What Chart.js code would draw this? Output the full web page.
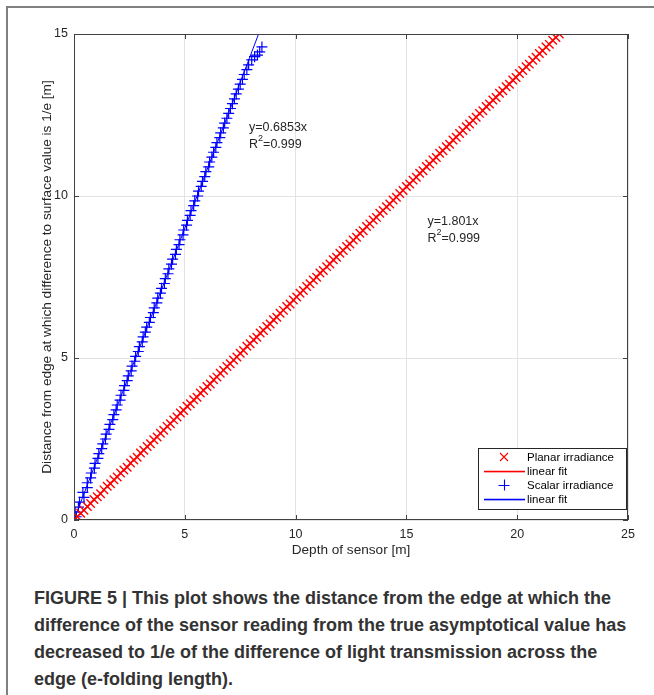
<!DOCTYPE html>
<html>
<head>
<meta charset="utf-8">
<script src="https://cdn.jsdelivr.net/npm/chart.js@4/dist/chart.umd.min.js"></script>
<style>
  html, body { margin: 0; padding: 0; background: #fff; }
  body { width: 654px; height: 695px; position: relative; overflow: hidden; }
  #frame {
    position: absolute; left: 6px; top: 6px; width: 660px; height: 720px;
    border-top: 2px solid #808080; border-left: 2px solid #808080;
  }
  #wrap { position: absolute; left: 0; top: 0; width: 654px; height: 570px; }
  #caption {
    position: absolute; left: 34px; top: 585px; width: 620px; white-space: nowrap;
    font-family: "Liberation Sans", Arial, sans-serif; font-weight: bold;
    font-size: 18px; line-height: 27px; color: #333;
  }
</style>
</head>
<body>
<div id="frame"></div>
<div id="wrap"><canvas id="chart"></canvas></div>
<div id="caption">FIGURE 5 | This plot shows the distance from the edge at which the<br>difference of the sensor reading from the true asymptotical value has<br>decreased to 1/e of the difference of light transmission across the<br>edge (e-folding length).</div>
<script>
// ═══════════════════════════════════════════════════════
// DATA  (depth of sensor [m], distance to 1/e [m])
// ═══════════════════════════════════════════════════════
const X_TICKS = [0, 5, 10, 15, 20, 25];
const Y_TICKS = [0, 5, 10, 15];

const PLANAR_POINTS = [
  [0,0],[0.15,0.10],[0.3,0.21],[0.45,0.30],[0.6,0.42],[0.75,0.51],[0.9,0.63],[1.05,0.72],
  [1.2,0.81],[1.35,0.93],[1.5,1.04],[1.65,1.12],[1.8,1.24],[1.95,1.33],[2.1,1.45],[2.25,1.54],
  [2.4,1.63],[2.55,1.76],[2.7,1.85],[2.85,1.94],[3.0,2.07],[3.15,2.15],[3.3,2.27],[3.45,2.35],
  [3.6,2.48],[3.75,2.56],[3.9,2.68],[4.05,2.77],[4.2,2.89],[4.35,2.97],[4.5,3.09],[4.65,3.18],
  [4.8,3.30],[4.95,3.38],[5.1,3.51],[5.25,3.59],[5.4,3.71],[5.55,3.79],[5.7,3.92],[5.85,4.00],
  [6.0,4.12],[6.15,4.20],[6.3,4.33],[6.45,4.41],[6.6,4.53],[6.75,4.62],[6.9,4.74],[7.05,4.82],
  [7.2,4.94],[7.35,5.03],[7.5,5.15],[7.65,5.23],[7.8,5.36],[7.95,5.44],[8.1,5.56],[8.25,5.64],
  [8.4,5.77],[8.55,5.85],[8.7,5.97],[8.85,6.05],[9.0,6.18],[9.15,6.26],[9.3,6.38],[9.45,6.47],
  [9.6,6.59],[9.75,6.67],[9.9,6.79],[10.05,6.88],[10.2,7.00],[10.35,7.08],[10.5,7.21],[10.65,7.29],
  [10.8,7.41],[10.95,7.49],[11.1,7.62],[11.25,7.70],[11.4,7.82],[11.55,7.90],[11.7,8.03],[11.85,8.11],
  [12.0,8.23],[12.15,8.32],[12.3,8.44],[12.45,8.52],[12.6,8.64],[12.75,8.73],[12.9,8.85],[13.05,8.93],
  [13.2,9.06],[13.35,9.14],[13.5,9.26],[13.65,9.34],[13.8,9.47],[13.95,9.55],[14.1,9.67],[14.25,9.75],
  [14.4,9.88],[14.55,9.96],[14.7,10.08],[14.85,10.17],[15.0,10.29],[15.15,10.37],[15.3,10.49],[15.45,10.58],
  [15.6,10.70],[15.75,10.78],[15.9,10.91],[16.05,10.99],[16.2,11.11],[16.35,11.19],[16.5,11.32],[16.65,11.40],
  [16.8,11.52],[16.95,11.60],[17.1,11.73],[17.25,11.81],[17.4,11.93],[17.55,12.02],[17.7,12.14],[17.85,12.22],
  [18.0,12.34],[18.15,12.43],[18.3,12.55],[18.45,12.63],[18.6,12.76],[18.75,12.84],[18.9,12.96],[19.05,13.04],
  [19.2,13.17],[19.35,13.25],[19.5,13.37],[19.65,13.45],[19.8,13.58],[19.95,13.66],[20.1,13.78],[20.25,13.87],
  [20.4,13.99],[20.55,14.07],[20.7,14.19],[20.85,14.28],[21.0,14.40],[21.15,14.48],[21.3,14.60],[21.45,14.68],
  [21.6,14.81],[21.75,14.89],[21.9,15.00]
];
const PLANAR_FIT = [[0, 0], [21.89, 15]];

const SCALAR_POINTS = [
  [0,0],[0.1,0.1],[0.05,0.25],[0.2,0.4],[0.25,0.55],[0.45,0.7],[0.4,0.85],[0.6,1.0],
  [0.6,1.15],[0.75,1.3],[0.78,1.45],[0.92,1.6],[0.95,1.75],[1.08,1.9],[1.12,2.05],[1.25,2.2],
  [1.3,2.35],[1.42,2.5],[1.45,2.65],[1.58,2.8],[1.62,2.95],[1.75,3.1],[1.8,3.25],[1.9,3.4],
  [1.95,3.55],[2.08,3.7],[2.12,3.85],[2.25,4.0],[2.28,4.15],[2.4,4.3],[2.45,4.45],[2.58,4.6],
  [2.62,4.75],[2.74,4.9],[2.78,5.05],[2.9,5.2],[2.95,5.35],[3.08,5.5],[3.12,5.65],[3.22,5.8],
  [3.28,5.95],[3.4,6.1],[3.45,6.25],[3.58,6.4],[3.62,6.55],[3.74,6.7],[3.78,6.85],[3.9,7.0],
  [3.95,7.15],[4.08,7.3],[4.12,7.45],[4.24,7.6],[4.28,7.75],[4.4,7.9],[4.45,8.05],[4.58,8.2],
  [4.62,8.35],[4.74,8.5],[4.78,8.65],[4.92,8.8],[4.95,8.95],[5.08,9.1],[5.12,9.25],[5.24,9.4],
  [5.28,9.55],[5.4,9.7],[5.45,9.85],[5.58,10.0],[5.62,10.15],[5.74,10.3],[5.8,10.45],[5.9,10.6],
  [5.95,10.75],[6.08,10.9],[6.12,11.05],[6.22,11.2],[6.3,11.35],[6.4,11.5],[6.45,11.65],[6.58,11.8],
  [6.62,11.95],[6.74,12.1],[6.8,12.25],[6.9,12.4],[6.98,12.55],[7.06,12.7],[7.15,12.85],[7.24,13.0],
  [7.32,13.15],[7.42,13.3],[7.5,13.45],[7.6,13.6],[7.68,13.75],[7.8,13.9],[7.88,14.05],[8.02,14.2],
  [8.15,14.3],[8.28,14.35],[8.38,14.45],[8.48,14.6]
];
const SCALAR_FIT = [[0, 0], [8.33, 15]];

const SERIES_LABELS = ['Planar irradiance', 'linear fit', 'Scalar irradiance', 'linear fit'];
const SERIES_COLORS = ['#ff0000', '#ff0000', '#0000ff', '#0000ff'];
const FIT_NOTES = [
  { x: 7.9, y: 12.12, eq: 'y=0.6853x', r2: '0.999' },
  { x: 15.95, y: 9.22, eq: 'y=1.801x',  r2: '0.999' },
];

const FONT = '"Liberation Sans", Arial, Helvetica, sans-serif';
const AXIS = '#404040';

const toPts = arr => arr.map(([x, y]) => ({ x, y }));

// ═══════════════════════════════════════════════════════
// MATLAB-STYLE BOX, INWARD TICKS, NOTES, LEGEND
// ═══════════════════════════════════════════════════════
const matlabBox = {
  id: 'matlabBox',
  afterDraw(chart) {
    const { ctx, chartArea: a, scales: { x, y } } = chart;
    ctx.save();
    ctx.strokeStyle = AXIS;
    ctx.lineWidth = 1;
    ctx.strokeRect(a.left + 0.5, a.top + 0.5, a.right - a.left - 1, a.bottom - a.top - 1);
    ctx.beginPath();
    X_TICKS.forEach(v => {
      const px = Math.round(x.getPixelForValue(v)) + 0.5;
      ctx.moveTo(px, a.bottom); ctx.lineTo(px, a.bottom - 5);
      ctx.moveTo(px, a.top); ctx.lineTo(px, a.top + 5);
    });
    Y_TICKS.forEach(v => {
      const py = Math.round(y.getPixelForValue(v)) + 0.5;
      ctx.moveTo(a.left, py); ctx.lineTo(a.left + 5, py);
      ctx.moveTo(a.right, py); ctx.lineTo(a.right - 5, py);
    });
    ctx.stroke();

    // fit equations
    ctx.fillStyle = '#262626';
    ctx.textBaseline = 'middle';
    ctx.textAlign = 'left';
    FIT_NOTES.forEach(n => {
      const px = x.getPixelForValue(n.x), py = y.getPixelForValue(n.y);
      ctx.font = `12.5px ${FONT}`;
      ctx.fillText(n.eq, px, py);
      ctx.fillText('R', px, py + 17);
      const rw = ctx.measureText('R').width;
      ctx.font = `9px ${FONT}`;
      ctx.fillText('2', px + rw, py + 11);
      const sw = ctx.measureText('2').width;
      ctx.font = `12.5px ${FONT}`;
      ctx.fillText('=' + n.r2, px + rw + sw, py + 17);
    });

    // legend, lower right inside the axes
    const lw = 148, lh = 61;
    const lx = a.right - 150, ly = a.bottom - 72;
    ctx.fillStyle = '#fff';
    ctx.fillRect(lx, ly, lw, lh);
    ctx.strokeStyle = '#262626';
    ctx.strokeRect(lx + 0.5, ly + 0.5, lw, lh);
    chart.data.datasets.forEach((d, i) => {
      const cy = Math.round(ly + 9 + i * 14);
      const cx = lx + 26;
      const col = SERIES_COLORS[i];
      if (d.showLine) {
        ctx.fillStyle = col;
        ctx.fillRect(lx + 6, cy - 0.25, 41, 1.6);
      } else {
        ctx.strokeStyle = col;
        ctx.lineWidth = 1.1;
        ctx.beginPath();
        if (d.pointStyle === 'crossRot') {
          ctx.moveTo(cx - 4, cy - 4); ctx.lineTo(cx + 4, cy + 4);
          ctx.moveTo(cx - 4, cy + 4); ctx.lineTo(cx + 4, cy - 4);
        } else {
          ctx.moveTo(cx - 5.5, cy + 0.5); ctx.lineTo(cx + 5.5, cy + 0.5);
          ctx.moveTo(cx + 0.5, cy - 5.5); ctx.lineTo(cx + 0.5, cy + 5.5);
        }
        ctx.stroke();
      }
      ctx.fillStyle = '#000';
      ctx.font = `11.5px ${FONT}`;
      ctx.textAlign = 'left';
      ctx.fillText(d.label, lx + 49, cy + 0.5);
    });
    ctx.restore();
  },
};

// ═══════════════════════════════════════════════════════
// CHART
// ═══════════════════════════════════════════════════════
new Chart(document.getElementById('chart'), {
  type: 'scatter',
  data: {
    datasets: [
      { label: SERIES_LABELS[0], data: toPts(PLANAR_POINTS), pointStyle: 'crossRot',
        pointRadius: 6, borderColor: SERIES_COLORS[0], backgroundColor: SERIES_COLORS[0], borderWidth: 1.4, showLine: false },
      { label: SERIES_LABELS[1], data: toPts(PLANAR_FIT), showLine: true, pointRadius: 0,
        borderColor: SERIES_COLORS[1], backgroundColor: SERIES_COLORS[1], borderWidth: 1 },
      { label: SERIES_LABELS[2], data: toPts(SCALAR_POINTS), pointStyle: 'cross',
        pointRadius: 5.5, borderColor: SERIES_COLORS[2], backgroundColor: SERIES_COLORS[2], borderWidth: 1.2, showLine: false },
      { label: SERIES_LABELS[3], data: toPts(SCALAR_FIT), showLine: true, pointRadius: 0,
        borderColor: SERIES_COLORS[3], backgroundColor: SERIES_COLORS[3], borderWidth: 1 },
    ],
  },
  options: {
    responsive: true,
    maintainAspectRatio: false,
    animation: false,
    events: [],
    layout: { padding: { left: 0, right: 26, top: 34, bottom: 0 } },
    plugins: { legend: { display: false }, tooltip: { enabled: false } },
    scales: {
      x: {
        type: 'linear', min: 0, max: 25,
        afterFit: s => { s.height = 50; },
        afterBuildTicks: s => { s.ticks = X_TICKS.map(v => ({ value: v })); },
        grid: { color: '#e3e3e3', drawTicks: false },
        border: { display: false },
        ticks: { padding: 7, color: '#262626', font: { family: FONT, size: 12.5 } },
        title: { display: true, text: 'Depth of sensor [m]', color: '#262626',
                 font: { family: FONT, size: 13.6 }, padding: { top: 0, bottom: 12 } },
      },
      y: {
        type: 'linear', min: 0, max: 15,
        afterFit: s => { s.width = 74; },
        afterBuildTicks: s => { s.ticks = Y_TICKS.map(v => ({ value: v })); },
        grid: { color: '#e3e3e3', drawTicks: false },
        border: { display: false },
        ticks: { padding: 6, color: '#262626', font: { family: FONT, size: 12.5 } },
        title: { display: true, text: 'Distance from edge at which difference to surface value is 1/e [m]',
                 color: '#262626', font: { family: FONT, size: 13.6 }, padding: { top: 39, bottom: 0 } },
      },
    },
  },
  plugins: [matlabBox],
});
</script>
</body>
</html>
